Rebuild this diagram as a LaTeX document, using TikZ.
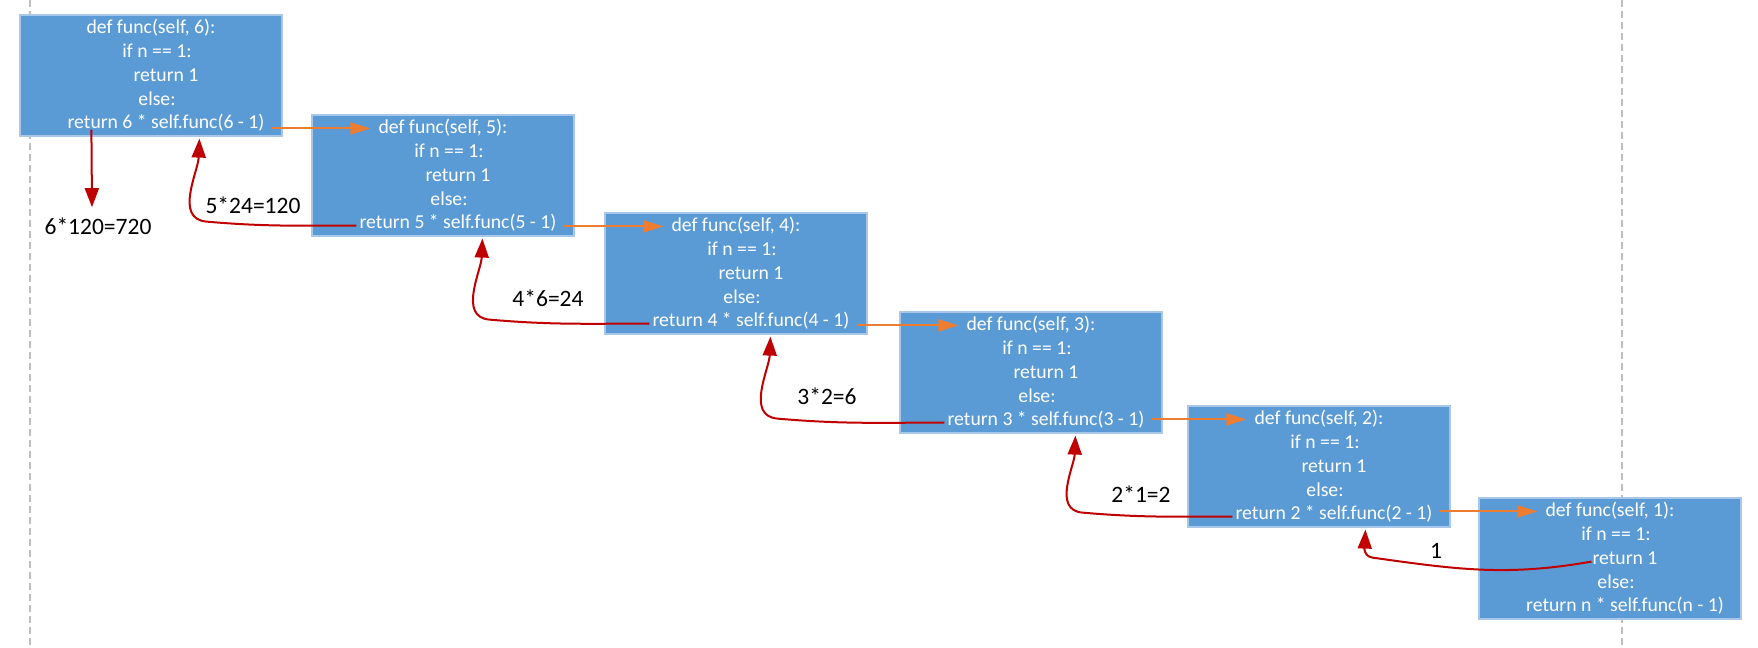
\documentclass[tikz,border=0pt]{standalone}
\usepackage{fontspec}
\setmainfont{Carlito}
\usepackage{tikz}
\usetikzlibrary{positioning, arrows.meta, calc}
\definecolor{boxblue}{HTML}{5B9BD5}
\definecolor{boxedge}{HTML}{A9C7E8}
\definecolor{callorange}{HTML}{ED7D31}
\definecolor{retred}{HTML}{C00000}
\definecolor{guidegray}{HTML}{BFBFBF}
\newcommand{\fbody}[2]{def func(self, #1):\\\hspace*{6pt}if n == 1:\\\hspace*{15pt}return 1\\\hspace*{6pt}else:\\\hspace*{15pt}return #2 * self.func(#2 - 1)}

\begin{document}
\begin{tikzpicture}[x=0.5pt, y=0.5pt,
  box/.style={rectangle, draw=boxedge, fill=boxblue, line width=0.6pt, minimum width=131pt, minimum height=60.5pt, inner sep=0pt, text=white, align=center, font=\fontsize{9.85}{11.9}\selectfont},
  call/.style={-{Triangle[length=10pt, width=6pt]}, callorange, line width=1pt},
  ret/.style={-{Triangle[length=9.5pt, width=7pt]}, retred, line width=1pt},
  val/.style={inner sep=0pt, font=\fontsize{11.75}{14}\selectfont},
  guide/.style={guidegray, line width=0.7pt, dash pattern=on 3.5pt off 2pt},
]
  \path[use as bounding box, fill=white] (0,0) rectangle (1758,-648);
  \draw[guide] (30,0) -- (30,-648);
  \draw[guide] (1622,0) -- (1622,-648);

  \node[box] (f6) at (151, -75.5) {\fbody{6}{6}};
  \node[box] (f5) at (443, -175.5) {\fbody{5}{5}};
  \node[box] (f4) at (736, -273.5) {\fbody{4}{4}};
  \node[box] (f3) at (1031, -372.5) {\fbody{3}{3}};
  \node[box] (f2) at (1319, -466.5) {\fbody{2}{2}};
  \node[box] (f1) at (1610, -558.5) {\fbody{1}{n}};

  \node[val] (res) at (98, -226) {6*120=720};
  \node[val] (v5) at (253, -205) {5*24=120};
  \node[val] (v4) at (548, -298) {4*6=24};
  \node[val] (v3) at (827, -396) {3*2=6};
  \node[val] (v2) at (1141, -494) {2*1=2};
  \node[val] (v1) at (1436, -551) {1};

  \draw[call] ($(f6.east |- f5.north)+(-11,-14)$) -- ($(f5.north west)+(59,-14)$);
  \draw[call] ($(f5.east |- f4.north)+(-11,-14)$) -- ($(f4.north west)+(59,-14)$);
  \draw[call] ($(f4.east |- f3.north)+(-11,-14)$) -- ($(f3.north west)+(59,-14)$);
  \draw[call] ($(f3.east |- f2.north)+(-11,-14)$) -- ($(f2.north west)+(59,-14)$);
  \draw[call] ($(f2.east |- f1.north)+(-11,-14)$) -- ($(f1.north west)+(59,-14)$);

  \draw[ret] ($(f6.south west)+(72,7)$) -- ($(res.north)+(-6,10)$);
  \draw[ret] ($(f5.south west)+(45,11)$) to[out=180, in=-5] ($(f6.south west)+(187,-85)$) to[out=175, in=-92] ($(f6.south west)+(180,-2)$);
  \draw[ret] ($(f4.south west)+(45,11)$) to[out=180, in=-5] ($(f5.south west)+(178,-83)$) to[out=175, in=-92] ($(f5.south west)+(171,-2)$);
  \draw[ret] ($(f3.south west)+(45,11)$) to[out=180, in=-5] ($(f4.south west)+(173,-84)$) to[out=175, in=-92] ($(f4.south west)+(166,-2)$);
  \draw[ret] ($(f2.south west)+(45,11)$) to[out=180, in=-5] ($(f3.south west)+(183,-79)$) to[out=175, in=-92] ($(f3.south west)+(176,-2)$);
  \draw[ret] ($(f1.south west)+(113,58)$) to[out=190, in=-8] ($(f2.south west)+(185,-30)$) to[out=172, in=-92] ($(f2.south west)+(178,-2)$);
\end{tikzpicture}
\end{document}
